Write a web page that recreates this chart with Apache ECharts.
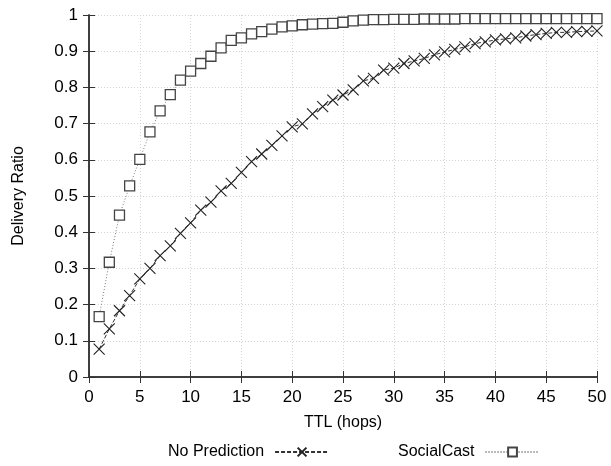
<!DOCTYPE html>
<html><head><meta charset="utf-8">
<script src="https://cdn.jsdelivr.net/npm/echarts@6/dist/echarts.min.js"></script>
<style>html,body{margin:0;padding:0;background:#fff}#c{width:611px;height:466px}</style>
</head><body><div id="c"></div>
<script>
const ttl = [];
for (let i = 1; i <= 50; i++) ttl.push(i);
const noPrediction = [0.077,0.133,0.183,0.225,0.271,0.300,0.335,0.362,0.397,0.426,
  0.461,0.483,0.514,0.535,0.565,0.595,0.616,0.640,0.666,0.691,
  0.699,0.727,0.747,0.765,0.779,0.793,0.818,0.825,0.848,0.853,
  0.866,0.873,0.880,0.890,0.898,0.905,0.912,0.921,0.926,0.931,
  0.934,0.937,0.942,0.946,0.949,0.952,0.952,0.954,0.955,0.956];
const socialCast = [0.167,0.317,0.447,0.528,0.601,0.677,0.735,0.780,0.820,0.845,
  0.866,0.886,0.909,0.930,0.937,0.948,0.954,0.961,0.967,0.970,
  0.973,0.975,0.976,0.977,0.980,0.984,0.986,0.987,0.987,0.988,
  0.988,0.988,0.989,0.989,0.989,0.989,0.990,0.990,0.990,0.990,
  0.990,0.990,0.990,0.990,0.990,0.990,0.990,0.990,0.990,0.990];
const xTicks = [0,5,10,15,20,25,30,35,40,45,50];
const yTicks = [0,0.1,0.2,0.3,0.4,0.5,0.6,0.7,0.8,0.9,1];

const font = 'Liberation Sans, Arial, sans-serif';
const chart = echarts.init(document.getElementById('c'));
const crossPath = 'path://M0,0L10,10M10,0L0,10';
chart.setOption({
  animation: false,
  textStyle: {fontFamily: font},
  grid: {left: 89, right: 14, top: 15, bottom: 89},
  legend: {
    bottom: 1, left: 163, align: 'right', itemGap: 68, itemWidth: 54, itemHeight: 11,
    textStyle: {fontSize: 16, color: '#000', fontFamily: font, padding: [0, 6, 0, 0]},
    data: ['No Prediction', 'SocialCast']
  },
  xAxis: [{
    type: 'value', min: 0, max: 50, interval: 5,
    name: 'TTL (hops)', nameLocation: 'middle', nameGap: 38,
    nameTextStyle: {fontSize: 16, color: '#000'},
    axisLine: {lineStyle: {color: '#333', width: 1.5}},
    axisTick: {inside: true, length: 6, lineStyle: {color: '#333'}},
    axisLabel: {fontSize: 17, color: '#000', margin: 12,
      formatter: v => xTicks.includes(v) ? String(v) : ''},
    splitLine: {show: true, lineStyle: {color: '#d4d4d4', type: [1, 2]}}
  }, {
    type: 'value', min: 0, max: 50, interval: 5, position: 'top',
    axisLine: {show: true, lineStyle: {color: '#333', width: 1.5}},
    axisTick: {show: true, inside: true, length: 6, lineStyle: {color: '#333'}},
    axisLabel: {show: false}, splitLine: {show: false}
  }],
  yAxis: [{
    type: 'value', min: 0, max: 1, interval: 0.1,
    name: 'Delivery Ratio', nameLocation: 'middle', nameGap: 62,
    nameTextStyle: {fontSize: 16, color: '#000'},
    axisLine: {show: true, lineStyle: {color: '#333', width: 1.5}},
    axisTick: {show: true, inside: true, length: 6, lineStyle: {color: '#333'}},
    axisLabel: {fontSize: 17, color: '#000', margin: 11,
      formatter: v => { const r = Math.round(v * 10) / 10; return yTicks.includes(r) ? String(r) : ''; }},
    splitLine: {show: true, lineStyle: {color: '#d4d4d4', type: [1, 2]}}
  }, {
    type: 'value', min: 0, max: 1, interval: 0.1, position: 'right',
    axisLine: {show: true, lineStyle: {color: '#333', width: 1.5}},
    axisTick: {show: true, inside: true, length: 6, lineStyle: {color: '#333'}},
    axisLabel: {show: false}, splitLine: {show: false}
  }],
  series: [{
    name: 'No Prediction', type: 'line',
    data: ttl.map((t, i) => [t, noPrediction[i]]),
    symbol: crossPath, symbolSize: 11,
    itemStyle: {color: '#222', borderColor: '#222', borderWidth: 1.1},
    lineStyle: {color: '#333', width: 1, type: [4, 2]}
  }, {
    name: 'SocialCast', type: 'line',
    data: ttl.map((t, i) => [t, socialCast[i]]),
    symbol: 'rect', symbolSize: 10,
    itemStyle: {color: '#fff', borderColor: '#444', borderWidth: 1.3},
    lineStyle: {color: '#777', width: 1, type: [1, 2]}
  }]
});
</script></body></html>
